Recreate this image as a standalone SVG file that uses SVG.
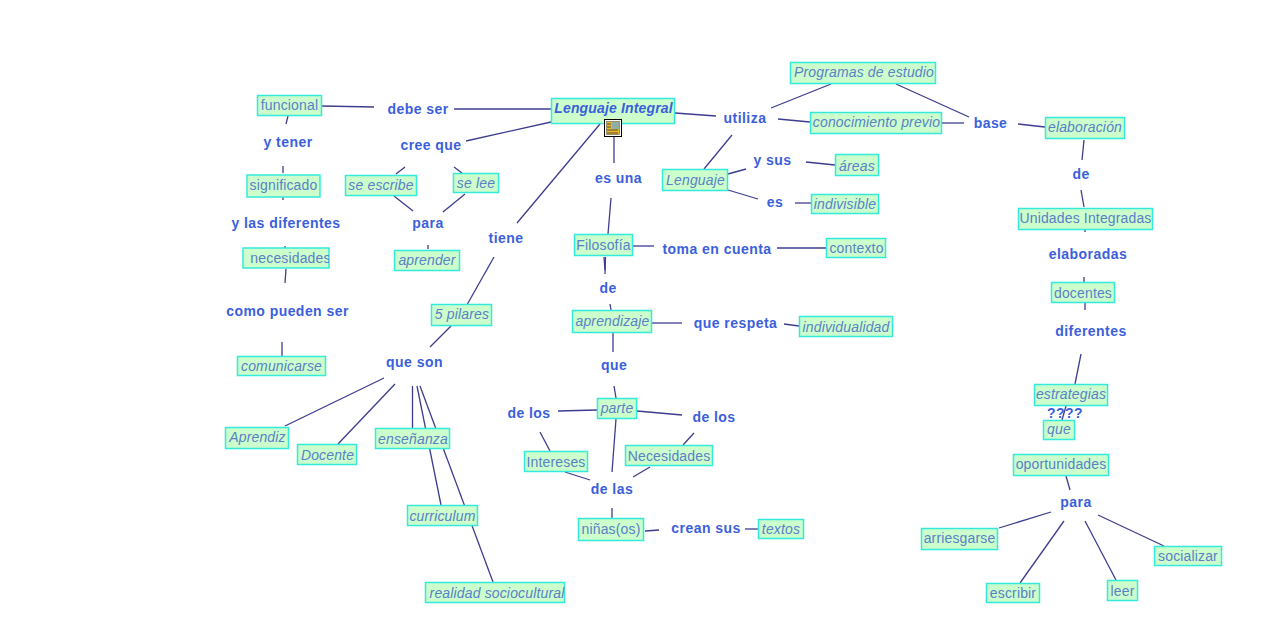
<svg xmlns="http://www.w3.org/2000/svg" width="1262" height="643" viewBox="0 0 1262 643">
<style>
.b{fill:#ccffcc;stroke:#33eadb;stroke-width:1.5}
.t{font:14px "Liberation Sans",Arial,sans-serif;fill:#5a80c8;text-anchor:middle;letter-spacing:.15px}
.i{font-style:italic}
.l{font:bold 14px "Liberation Sans",Arial,sans-serif;fill:#3b5fdc;text-anchor:middle;letter-spacing:.45px}
#connectors line{stroke:#3d3d8f;stroke-width:1.3}
</style>
<defs><clipPath id="clip-nec"><rect x="243" y="248" width="86" height="20"/></clipPath></defs>
<rect width="1262" height="643" fill="#fff"/>
<g id="connectors">
<line x1="322" y1="106" x2="374" y2="107"/><line x1="454" y1="109" x2="551" y2="109"/>
<line x1="288" y1="116" x2="286" y2="124"/><line x1="283" y1="166" x2="283" y2="173"/><line x1="283" y1="197" x2="283" y2="200"/>
<line x1="285" y1="246" x2="285" y2="248"/><line x1="286" y1="269" x2="285" y2="283"/><line x1="282" y1="342" x2="282" y2="356"/>
<line x1="466" y1="141" x2="551" y2="122"/><line x1="405" y1="167" x2="396" y2="174"/><line x1="454" y1="167" x2="462" y2="173"/>
<line x1="394" y1="196" x2="413" y2="211"/><line x1="465" y1="194" x2="443" y2="212"/><line x1="428" y1="245" x2="428" y2="249"/>
<line x1="600" y1="124" x2="517" y2="223"/><line x1="494" y1="257" x2="455" y2="326"/><line x1="451" y1="326" x2="430" y2="347"/>
<line x1="384" y1="378" x2="285" y2="426"/><line x1="395" y1="384" x2="338" y2="444"/><line x1="412.500" y1="386" x2="412.500" y2="428"/>
<line x1="417" y1="386" x2="441" y2="505"/><line x1="420" y1="386" x2="493" y2="582"/>
<line x1="614" y1="137" x2="614" y2="163"/><line x1="611" y1="198" x2="608" y2="234"/><line x1="605.500" y1="257" x2="605" y2="274"/><line x1="604" y1="257" x2="605" y2="270"/>
<line x1="610" y1="304" x2="611" y2="310"/><line x1="613" y1="333" x2="613" y2="352"/><line x1="614" y1="386" x2="616" y2="398"/>
<line x1="633" y1="246" x2="654" y2="246"/><line x1="777" y1="248" x2="826" y2="248"/>
<line x1="652" y1="323" x2="682" y2="323"/><line x1="784" y1="324" x2="799" y2="326"/>
<line x1="558" y1="411" x2="597" y2="410"/><line x1="637" y1="411" x2="682" y2="415"/><line x1="540" y1="432" x2="550" y2="451"/>
<line x1="694" y1="433" x2="683" y2="445"/><line x1="616" y1="419" x2="612" y2="472"/><line x1="565" y1="472" x2="590" y2="480"/>
<line x1="650" y1="467" x2="633" y2="477"/><line x1="612" y1="508" x2="612" y2="518"/><line x1="645" y1="531" x2="659" y2="530"/><line x1="745" y1="529" x2="758" y2="529"/>
<line x1="675" y1="113" x2="716" y2="116"/><line x1="771" y1="108" x2="831" y2="84"/><line x1="896" y1="84" x2="969" y2="117"/>
<line x1="778" y1="119" x2="810" y2="122"/><line x1="942" y1="123" x2="964" y2="123"/><line x1="1018" y1="124" x2="1045" y2="127"/>
<line x1="732" y1="135" x2="704" y2="169"/><line x1="728" y1="174" x2="746" y2="169"/><line x1="728" y1="190" x2="758" y2="199"/>
<line x1="806" y1="162" x2="835" y2="165"/><line x1="795" y1="203" x2="811" y2="203"/>
<line x1="1084" y1="140" x2="1082" y2="160"/><line x1="1081" y1="190" x2="1084" y2="207"/><line x1="1085" y1="230" x2="1085" y2="232"/>
<line x1="1084" y1="277" x2="1084" y2="282"/><line x1="1085" y1="303" x2="1085" y2="310"/><line x1="1081" y1="354" x2="1075" y2="384"/>
<line x1="1066" y1="406" x2="1062" y2="420"/><line x1="1066" y1="476" x2="1070" y2="490"/>
<line x1="1051" y1="512" x2="999" y2="528"/><line x1="1064" y1="521" x2="1020" y2="583"/><line x1="1085" y1="521" x2="1116" y2="580"/><line x1="1098" y1="515" x2="1164" y2="546"/>
</g>
<g id="n-funcional"><rect class="b" x="257.500" y="95.500" width="64" height="20"/><text class="t" x="289.500" y="110">funcional</text></g>
<g id="n-significado"><rect class="b" x="247" y="175" width="73" height="22"/><text class="t" x="283.500" y="190">significado</text></g>
<g id="n-necesidades"><rect class="b" x="243" y="248" width="86" height="20"/><text class="t" x="290.500" y="263" clip-path="url(#clip-nec)">necesidades</text></g>
<g id="n-comunicarse"><rect class="b" x="237.500" y="356.500" width="88" height="19"/><text class="t i" x="281.500" y="371">comunicarse</text></g>
<g id="n-seescribe"><rect class="b" x="345.500" y="175.500" width="71" height="20"/><text class="t i" x="381" y="190">se escribe</text></g>
<g id="n-selee"><rect class="b" x="453.500" y="173.500" width="45" height="19"/><text class="t i" x="476" y="188">se lee</text></g>
<g id="n-aprender"><rect class="b" x="394.500" y="250.500" width="65" height="20"/><text class="t i" x="427" y="265">aprender</text></g>
<g id="n-5pilares"><rect class="b" x="431.500" y="304.500" width="60" height="21"/><text class="t i" x="462" y="319">5 pilares</text></g>
<g id="n-lenguajeintegral"><rect class="b" x="551.500" y="98.500" width="123" height="25"/><text class="t i" x="613.500" y="113" style="font-weight:bold;fill:#3b5fdc">Lenguaje Integral</text></g>
<g id="n-icon"><rect x="604.500" y="119.500" width="17" height="17" fill="#fff" stroke="#000"/><rect x="606.500" y="121.500" width="13" height="13" fill="#e8b830" stroke="#444" stroke-width=".5"/><rect x="612" y="122" width="7" height="7" fill="#8fb0a0"/><path d="M607 124h4M607 127h4M607 130h11M607 133h11" stroke="#333" fill="none" stroke-width=".8"/></g>
<g id="n-programas"><rect class="b" x="790.500" y="62.500" width="145" height="21"/><text class="t i" x="864" y="77">Programas de estudio</text></g>
<g id="n-conocimiento"><rect class="b" x="810.500" y="112.500" width="131" height="21"/><text class="t i" x="876.500" y="127">conocimiento previo</text></g>
<g id="n-elaboracion"><rect class="b" x="1045.500" y="117.500" width="79" height="21"/><text class="t i" x="1085" y="132">elaboración</text></g>
<g id="n-lenguaje"><rect class="b" x="662.500" y="169.500" width="65" height="21"/><text class="t i" x="695.500" y="185">Lenguaje</text></g>
<g id="n-areas"><rect class="b" x="835.500" y="154.500" width="43" height="21"/><text class="t i" x="857" y="171">áreas</text></g>
<g id="n-indivisible"><rect class="b" x="811.500" y="194.500" width="67" height="19"/><text class="t i" x="845" y="209">indivisible</text></g>
<g id="n-filosofia"><rect class="b" x="574.500" y="234.500" width="58" height="21"/><text class="t" x="603.500" y="250">Filosofía</text></g>
<g id="n-contexto"><rect class="b" x="826.500" y="238.500" width="59" height="19"/><text class="t" x="856.500" y="253">contexto</text></g>
<g id="n-aprendizaje"><rect class="b" x="572.500" y="310.500" width="79" height="22"/><text class="t i" x="612.500" y="326">aprendizaje</text></g>
<g id="n-individualidad"><rect class="b" x="799.500" y="316.500" width="93" height="20"/><text class="t i" x="846" y="332">individualidad</text></g>
<g id="n-parte"><rect class="b" x="597.500" y="398.500" width="39" height="20"/><text class="t i" x="617" y="413">parte</text></g>
<g id="n-intereses"><rect class="b" x="524.500" y="451.500" width="63" height="20"/><text class="t" x="556" y="467">Intereses</text></g>
<g id="n-necesidades2"><rect class="b" x="625.500" y="445.500" width="87" height="20"/><text class="t" x="669" y="461">Necesidades</text></g>
<g id="n-ninas"><rect class="b" x="578.500" y="518.500" width="65" height="22"/><text class="t" x="611" y="534">niñas(os)</text></g>
<g id="n-textos"><rect class="b" x="758.500" y="519.500" width="45" height="19"/><text class="t i" x="781" y="534">textos</text></g>
<g id="n-aprendiz"><rect class="b" x="225.500" y="427.500" width="63" height="21"/><text class="t i" x="257.500" y="442">Aprendiz</text></g>
<g id="n-docente"><rect class="b" x="297.500" y="444.500" width="59" height="20"/><text class="t i" x="327.500" y="460">Docente</text></g>
<g id="n-ensenanza"><rect class="b" x="375.500" y="428.500" width="74" height="20"/><text class="t i" x="413" y="444">enseñanza</text></g>
<g id="n-curriculum"><rect class="b" x="407.500" y="505.500" width="70" height="20"/><text class="t i" x="442.500" y="521">curriculum</text></g>
<g id="n-realidad"><rect class="b" x="425.500" y="582.500" width="139" height="20"/><text class="t i" x="497" y="598">realidad sociocultural</text></g>
<g id="n-unidades"><rect class="b" x="1018.500" y="208.500" width="134" height="21"/><text class="t" x="1085.500" y="223">Unidades Integradas</text></g>
<g id="n-docentes"><rect class="b" x="1051.500" y="282.500" width="63" height="20"/><text class="t" x="1083" y="298">docentes</text></g>
<g id="n-estrategias"><rect class="b" x="1034.500" y="384.500" width="73" height="21"/><text class="t i" x="1071" y="399">estrategias</text></g>
<g id="n-que"><rect class="b" x="1043.500" y="420.500" width="31" height="19"/><text class="t i" x="1059" y="434">que</text></g>
<g id="n-oportunidades"><rect class="b" x="1013.500" y="454.500" width="95" height="21"/><text class="t" x="1061" y="469">oportunidades</text></g>
<g id="n-arriesgarse"><rect class="b" x="921.500" y="528.500" width="76" height="21"/><text class="t" x="959.500" y="543">arriesgarse</text></g>
<g id="n-escribir"><rect class="b" x="986.500" y="583.500" width="53" height="19"/><text class="t" x="1013" y="598">escribir</text></g>
<g id="n-leer"><rect class="b" x="1107.500" y="580.500" width="30" height="20"/><text class="t" x="1122.500" y="596">leer</text></g>
<g id="n-socializar"><rect class="b" x="1154.500" y="546.500" width="67" height="19"/><text class="t" x="1188" y="561">socializar</text></g>
<g id="labels">
<text class="l" x="418" y="114">debe ser</text><text class="l" x="288" y="147">y tener</text><text class="l" x="431" y="150">cree que</text>
<text class="l" x="286" y="228">y las diferentes</text><text class="l" x="428" y="228">para</text><text class="l" x="506" y="243">tiene</text>
<text class="l" x="287.500" y="316">como pueden ser</text><text class="l" x="414.500" y="367">que son</text>
<text class="l" x="618.500" y="183">es una</text><text class="l" x="717" y="254">toma en cuenta</text><text class="l" x="608" y="293">de</text>
<text class="l" x="735.500" y="328">que respeta</text><text class="l" x="614" y="370">que</text><text class="l" x="529" y="418">de los</text><text class="l" x="714" y="422">de los</text>
<text class="l" x="612" y="494">de las</text><text class="l" x="706" y="533">crean sus</text>
<text class="l" x="745" y="123">utiliza</text><text class="l" x="990.500" y="128">base</text><text class="l" x="772.500" y="165">y sus</text><text class="l" x="775" y="207">es</text>
<text class="l" x="1081" y="179">de</text><text class="l" x="1088" y="259">elaboradas</text><text class="l" x="1091" y="336">diferentes</text><text class="l" x="1065" y="418">????</text><text class="l" x="1076" y="507">para</text>
</g>
</svg>
